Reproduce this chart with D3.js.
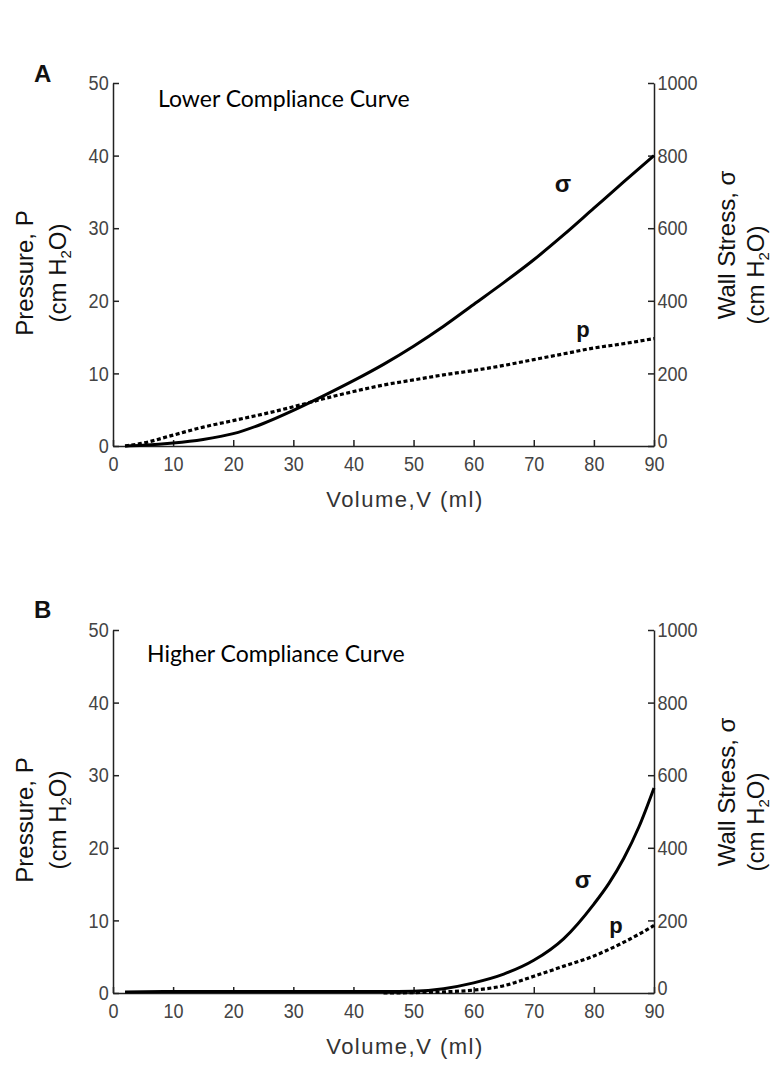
<!DOCTYPE html>
<html><head><meta charset="utf-8">
<script src="https://cdn.jsdelivr.net/npm/d3@7"></script>
<style>
html,body{margin:0;padding:0;background:#fff;}
svg{display:block;}
</style></head>
<body>
<script>
// ---- data ----
const xTicks = [0,10,20,30,40,50,60,70,80,90];
const pTicks = [0,10,20,30,40,50];
const sTicks = [0,200,400,600,800,1000];

const volA   = [2, 5, 10, 15, 20, 25, 30, 35, 40, 45, 50, 55, 60, 65, 70, 75, 80, 85, 90];
const sigmaA = [0, 2, 8, 18, 34, 62, 98, 138, 180, 225, 275, 330, 390, 450, 513, 582, 655, 728, 800];
const presA  = [0, 0.4, 1.5, 2.6, 3.5, 4.4, 5.4, 6.5, 7.5, 8.4, 9.1, 9.8, 10.4, 11.1, 11.9, 12.7, 13.5, 14.1, 14.8];

const volB   = [2, 10, 20, 30, 40, 45, 50, 55, 60, 65, 70, 75, 80, 82.5, 85, 87.5, 90];
const sigmaB = [3, 4, 4, 4, 4, 4, 5, 12, 28, 52, 90, 150, 245, 302, 372, 458, 565];
const presB  = [null, null, null, null, null, 0, 0.05, 0.15, 0.4, 1.0, 2.3, 3.7, 5.1, 6.0, 7.0, 8.1, 9.3];

const panels = [
  {letter:"A", letterY:82, title:"Lower Compliance Curve", vol:volA, sigma:sigmaA, pres:presA,
   top:83, titleX:158, titleY:107, sLab:[563,192], pLab:[583,337]},
  {letter:"B", letterY:618, title:"Higher Compliance Curve", vol:volB, sigma:sigmaB, pres:presB,
   top:630, titleX:147, titleY:662, sLab:[583,888], pLab:[616,933]}
];

// ---- layout ----
const W = 780, H = 1078;
const left = 113, right = 654, plotH = 363;
const tickFont = "'Liberation Sans',Arial,sans-serif";
const labFont = "'Liberation Sans',Arial,sans-serif";

const svg = d3.select("body").append("svg").attr("width", W).attr("height", H);

panels.forEach(P => {
  const top = P.top, bottom = top + plotH;
  const x = d3.scaleLinear().domain([0, 90]).range([left, right]);
  const yL = d3.scaleLinear().domain([0, 50]).range([bottom, top]);
  const yR = d3.scaleLinear().domain([0, 1000]).range([bottom, top]);
  const g = svg.append("g");

  // letter
  g.append("text").attr("x", 34).attr("y", P.letterY)
    .attr("font-family", labFont).attr("font-weight", "bold").attr("font-size", 24)
    .attr("fill", "#111").text(P.letter);

  // axes
  const fmt = d3.format("d");
  const axL = d3.axisLeft(yL).tickValues(pTicks).tickFormat(fmt).tickSizeInner(-6).tickSizeOuter(0).tickPadding(5);
  const axR = d3.axisRight(yR).tickValues(sTicks).tickFormat(fmt).tickSizeInner(-6).tickSizeOuter(0).tickPadding(4);
  const axB = d3.axisBottom(x).tickValues(xTicks).tickFormat(fmt).tickSizeInner(-6).tickSizeOuter(0).tickPadding(10);

  function style(sel){
    sel.selectAll("path.domain").attr("stroke", "#222").attr("stroke-width", 1.5);
    sel.selectAll(".tick line").attr("stroke", "#222").attr("stroke-width", 1.5);
    sel.selectAll(".tick text").attr("font-family", tickFont).attr("font-size", 21)
      .attr("fill", "#444").attr("transform", "scale(0.86,1)");
  }
  g.append("g").attr("transform", `translate(${left},0)`).call(axL).call(style);
  const gR = g.append("g").attr("transform", `translate(${right},0)`).call(axR).call(style);
  gR.selectAll(".tick text").attr("text-anchor", "start");
  gR.selectAll(".tick").filter(d => d === 0).select("text").attr("dy", "0.05em");
  g.append("g").attr("transform", `translate(0,${bottom})`).call(axB).call(style);

  // curves
  const sData = P.vol.map((v, i) => ({v, s: P.sigma[i]}));
  const pData = P.vol.map((v, i) => ({v, p: P.pres[i]})).filter(d => d.p !== null);
  const lineS = d3.line().x(d => x(d.v)).y(d => yR(d.s)).curve(d3.curveMonotoneX);
  const lineP = d3.line().x(d => x(d.v)).y(d => yL(d.p)).curve(d3.curveMonotoneX);
  g.append("path").datum(pData).attr("d", lineP).attr("fill", "none")
    .attr("stroke", "#000").attr("stroke-width", 3.2).attr("stroke-dasharray", "4,2.5");
  g.append("path").datum(sData).attr("d", lineS).attr("fill", "none")
    .attr("stroke", "#000").attr("stroke-width", 3);

  // curve labels
  g.append("text").attr("x", P.sLab[0]).attr("y", P.sLab[1]).attr("text-anchor", "middle")
    .attr("font-family", labFont).attr("font-weight", "bold").attr("font-size", 24).attr("fill", "#111").text("σ");
  g.append("text").attr("x", P.pLab[0]).attr("y", P.pLab[1]).attr("text-anchor", "middle")
    .attr("font-family", labFont).attr("font-weight", "bold").attr("font-size", 22).attr("fill", "#111").text("p");

  // panel title
  g.append("text").attr("x", P.titleX).attr("y", P.titleY)
    .attr("font-family", "Lato,'Open Sans',sans-serif").attr("font-size", 23).attr("fill", "#000").text(P.title);

  // x axis title
  g.append("text").attr("x", 405).attr("y", bottom + 61).attr("text-anchor", "middle")
    .attr("font-family", tickFont).attr("font-size", 22).attr("letter-spacing", 1.5)
    .attr("fill", "#333").text("Volume,V (ml)");

  // left axis title
  const cyL = top + 190;
  const tl = g.append("g").attr("transform", `translate(33,${cyL}) rotate(-90)`);
  tl.append("text").attr("text-anchor", "middle").attr("font-family", labFont).attr("font-size", 24)
    .attr("fill", "#111").text("Pressure, P");
  const tl2 = g.append("g").attr("transform", `translate(66,${cyL}) rotate(-90)`).append("text")
    .attr("text-anchor", "middle").attr("font-family", labFont).attr("font-size", 24).attr("fill", "#111");
  tl2.append("tspan").text("(cm H");
  tl2.append("tspan").attr("font-size", 15).attr("dy", 5).text("2");
  tl2.append("tspan").attr("dy", -5).text("O)");

  // right axis title
  const tr = g.append("g").attr("transform", `translate(735,${top + 162}) rotate(-90)`);
  tr.append("text").attr("text-anchor", "middle").attr("font-family", labFont).attr("font-size", 24)
    .attr("fill", "#111").text("Wall Stress, σ");
  const tr2 = g.append("g").attr("transform", `translate(764,${top + 192}) rotate(-90)`).append("text")
    .attr("text-anchor", "middle").attr("font-family", labFont).attr("font-size", 24).attr("fill", "#111");
  tr2.append("tspan").text("(cm H");
  tr2.append("tspan").attr("font-size", 15).attr("dy", 5).text("2");
  tr2.append("tspan").attr("dy", -5).text("O)");
});
</script>
</body></html>
